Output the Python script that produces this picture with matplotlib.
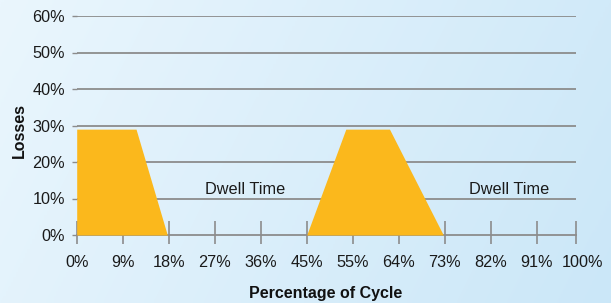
import matplotlib
matplotlib.use("Agg")
import matplotlib.pyplot as plt
import numpy as np
from matplotlib.colors import LinearSegmentedColormap

# Data (x in cycle-step units as drawn on the reference axis)
cycle_step = [0, 0, 1.29, 1.97, 5.0, 5.85, 6.8, 7.97]
losses = [0.0, 0.29, 0.29, 0.0, 0.0, 0.29, 0.29, 0.0]
xlabel_pos = [0, 1, 2, 3, 4, 5, 6, 7, 8, 9, 10, 11]
xtick_labels = ["0%", "9%", "18%", "27%", "36%", "45%", "55%", "64%", "73%", "82%", "91%", "100%"]
xtick_marks = [0, 1, 2, 3, 4, 5, 6, 7, 8, 9, 10, 10.85]
axis_end = 10.85
ytick_vals = [0, 0.1, 0.2, 0.3, 0.4, 0.5, 0.6]
ytick_labels = ["0%", "10%", "20%", "30%", "40%", "50%", "60%"]
annot_text = ["Dwell Time", "Dwell Time"]
annot_x = [3.66, 9.4]
annot_y = [0.104, 0.104]

plt.rcParams['font.family'] = ['Liberation Sans', 'DejaVu Sans']

W, H = 611, 303
fig = plt.figure(figsize=(W / 100, H / 100), dpi=100)

# gradient background
bg = fig.add_axes([0, 0, 1, 1], zorder=-10)
cmap = LinearSegmentedColormap.from_list("bg", ["#eaf6fd", "#cbe7f8"])
gx, gy = np.meshgrid(np.linspace(0, 1, 256), np.linspace(0, 1, 64))
grad = 0.8 * gx + 0.2 * gy
bg.imshow(grad, cmap=cmap, aspect="auto", extent=[0, 1, 0, 1], origin="upper")
bg.axis("off")

unit_px = 46.0
left_px = 76.7
left, right = left_px / W, (left_px + unit_px * 11) / W
bottom, top = (H - 235) / H, (H - 16) / H
ax = fig.add_axes([left, bottom, right - left, top - bottom])
ax.patch.set_alpha(0)
ax.set_axisbelow(True)
ax.set_xlim(0, 11)
ax.set_ylim(0, 0.6)

grid_c = "#8c8c8c"
txt_c = "#1a1a1a"
# gridlines
ax.hlines(ytick_vals[1:], 0, axis_end, color=grid_c, linewidth=1.3, zorder=0.4)
# upward part of x tick marks
ax.vlines(xtick_marks, 0, 14 / 219, transform=ax.get_xaxis_transform(),
          color=grid_c, linewidth=1.2, zorder=0.4, clip_on=False)

ax.fill_between(cycle_step, losses, 0, color="#fbb81c", linewidth=0, zorder=2)

for s in ["top", "right", "left"]:
    ax.spines[s].set_visible(False)
ax.spines["bottom"].set_color(grid_c)
ax.spines["bottom"].set_linewidth(1.3)
ax.spines["bottom"].set_zorder(0.5)
ax.spines["bottom"].set_bounds(0, axis_end)

fs = 11.7
ax.set_yticks(ytick_vals)
ax.set_yticklabels(ytick_labels)
ax.tick_params(axis="y", length=3.5, width=1.0, color=grid_c, pad=5.0,
               labelsize=fs, labelcolor=txt_c)

# tick marks (major, no labels) and labels (minor, no marks)
ax.set_xticks(xtick_marks)
ax.set_xticklabels([""] * len(xtick_marks))
ax.set_xticks(xlabel_pos, minor=True)
ax.set_xticklabels(xtick_labels, minor=True)
ax.xaxis.remove_overlapping_locs = False
ax.tick_params(axis="x", which="major", direction="out", length=6.5, width=1.2, color=grid_c)
ax.tick_params(axis="x", which="minor", length=0, pad=14.5, labelsize=fs, labelcolor=txt_c)

for t, xx, yy in zip(annot_text, annot_x, annot_y):
    ax.text(xx, yy, t, ha="center", va="bottom", fontsize=fs, color=txt_c, zorder=3)

ax.set_xlabel("Percentage of Cycle", fontsize=11.5, fontweight="bold", color="#111111", va="center")
ax.xaxis.set_label_coords((326 - left_px) / (unit_px * 11), -0.265)
ax.set_ylabel("Losses", fontsize=11.5, fontweight="bold", color="#111111", va="center")
ax.yaxis.set_label_coords((19 - left_px) / (unit_px * 11), 0.477)

fig.savefig("out.png", dpi=100)
